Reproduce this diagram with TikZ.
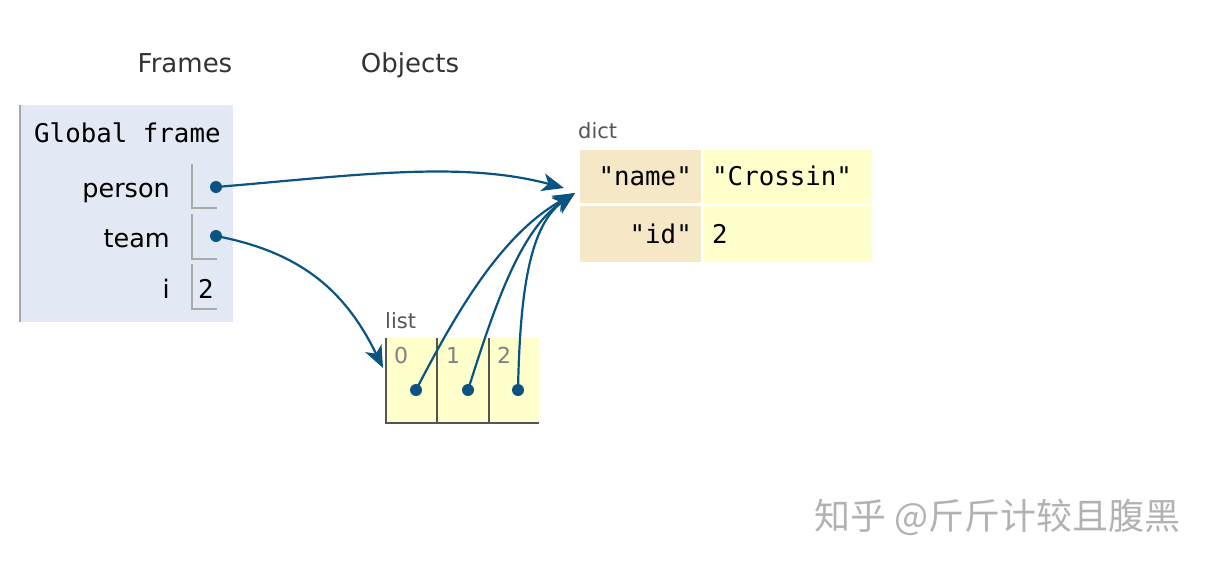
\documentclass[tikz,border=0pt]{standalone}
\usepackage{fontspec}
\setmainfont{DejaVu Sans}
\newfontfamily\monof{DejaVu Sans Mono}
\newfontfamily\cjk{Noto Sans CJK SC}
\usetikzlibrary{arrows.meta}
\definecolor{framebg}{HTML}{E2E9F4}
\definecolor{framebar}{HTML}{A0A8B0}
\definecolor{cellline}{HTML}{AAAAAA}
\definecolor{keybg}{HTML}{F6E8C6}
\definecolor{valbg}{HTML}{FFFFCC}
\definecolor{listline}{HTML}{555555}
\definecolor{ptrcol}{HTML}{0B5380}
\definecolor{hdrcol}{HTML}{333333}
\definecolor{lblcol}{HTML}{555555}
\definecolor{idxcol}{HTML}{808080}
\tikzset{
  hdr/.style={font=\fontsize{26}{26}\selectfont, text=hdrcol, inner sep=0, anchor=base},
  varname/.style={font=\fontsize{25.5}{25.5}\selectfont, text=black, inner sep=0, anchor=base east},
  mono/.style={font=\monof\fontsize{25.8}{25.8}\selectfont, text=black, inner sep=0},
  small/.style={font=\fontsize{21}{21}\selectfont, text=lblcol, inner sep=0, anchor=base west},
  idx/.style={font=\fontsize{22}{22}\selectfont, text=idxcol, inner sep=0, anchor=base west},
  cellbox/.style={draw=none, inner sep=0, anchor=north west},
  dot/.style={circle, fill=ptrcol, inner sep=0, minimum size=12pt},
  ptr/.style={draw=ptrcol, line width=2.2pt, -{Stealth[length=22pt,width=18pt,inset=6pt]}},
}
\begin{document}
\begin{tikzpicture}[x=1pt,y=-1pt]
\useasboundingbox (0,0) rectangle (1210,568);
% headers
\node[hdr] (frames) at (185,72) {Frames};
\node[hdr] (objects) at (410,72) {Objects};
% global frame
\node[cellbox, fill=framebg, minimum width=213pt, minimum height=217pt] (gframe) at (20,105) {};
\draw[framebar, line width=2.5pt] (gframe.north west) -- (gframe.south west);
\node[mono, anchor=base west] (gtitle) at (34,142) {Global frame};
\node[varname] (vperson) at (170,197) {person};
\node[varname] (vteam) at (170,247) {team};
\node[varname] (vi) at (170,298) {i};
\coordinate (c1) at (192,164);
\coordinate (c2) at (192,214);
\coordinate (c3) at (192,264);
\draw[cellline, line width=1.5pt] (c1) -- ++(0,44) -- ++(25,0);
\draw[cellline, line width=1.5pt] (c2) -- ++(0,45) -- ++(25,0);
\draw[cellline, line width=1.5pt] (c3) -- ++(0,45) -- ++(25,0);
\node[dot] (pdot) at (216,187) {};
\node[dot] (tdot) at (216,236) {};
\node[mono, anchor=base west] (ival) at (198,298) {2};
% dict
\node[small] (dictlbl) at (578,138) {dict};
\node[cellbox, fill=keybg, minimum width=121pt, minimum height=53pt] (k1) at (580,150) {};
\node[cellbox, fill=valbg, minimum width=169pt, minimum height=53pt] (v1) at (703,150) {};
\node[cellbox, fill=keybg, minimum width=121pt, minimum height=56pt] (k2) at (580,206) {};
\node[cellbox, fill=valbg, minimum width=169pt, minimum height=56pt] (v2) at (703,206) {};
\node[mono, anchor=base east] (k1t) at (692,185) {"name"};
\node[mono, anchor=base west] (v1t) at (712,185) {"Crossin"};
\node[mono, anchor=base east] (k2t) at (692,243) {"id"};
\node[mono, anchor=base west] (v2t) at (712,243) {2};
% list
\node[small] (listlbl) at (385,328) {list};
\node[cellbox, fill=valbg, minimum width=153pt, minimum height=85pt] (lst) at (386,338) {};
\draw[listline, line width=2pt] (386,338) -- (386,423) -- (539,423);
\draw[listline, line width=2pt] (437,338) -- (437,423);
\draw[listline, line width=2pt] (489,338) -- (489,423);
\node[idx] (i0) at (394,363) {0};
\node[idx] (i1) at (446,363) {1};
\node[idx] (i2) at (497,363) {2};
\node[dot] (l0) at (416,390) {};
\node[dot] (l1) at (468,390) {};
\node[dot] (l2) at (518,390) {};
% pointer targets
\coordinate (dtipA) at (564,188);
\coordinate (dtipB) at (575,193);
\coordinate (ltip) at (383,368);
% pointers
\draw[ptr] (pdot.center) .. controls (350,176) and (460,160) .. (dtipA);
\draw[ptr] (tdot.center) .. controls (300,252) and (345,290) .. (ltip);
\draw[ptr] (l0.center) .. controls (455,315) and (500,235) .. (dtipB);
\draw[ptr] (l1.center) .. controls (495,305) and (520,230) .. (dtipB);
\draw[ptr] (l2.center) .. controls (520,290) and (530,225) .. (dtipB);
% watermark
\node[font=\cjk\fontsize{36}{36}\selectfont, text=black!30, inner sep=0, anchor=west] (wm) at (814,517) {知乎 @斤斤计较且腹黑};
\end{tikzpicture}
\end{document}
